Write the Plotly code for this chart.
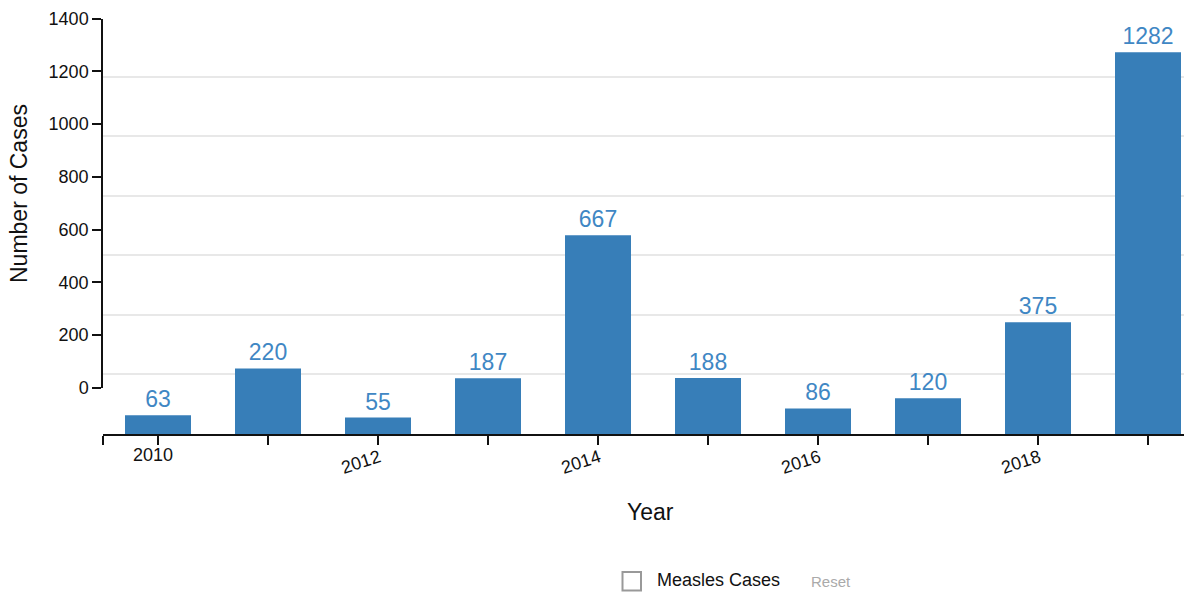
import plotly.graph_objects as go

years = [2010, 2011, 2012, 2013, 2014, 2015, 2016, 2017, 2018, 2019]
cases = [63, 220, 55, 187, 667, 188, 86, 120, 375, 1282]
label_years = [2010, 2012, 2014, 2016, 2018]
axis_ticks = [0, 200, 400, 600, 800, 1000, 1200, 1400]

# the page body adds an 8px offset; targets below are given in screen pixels
OFF = 8
W, H = 1192, 599
L = 103 - OFF          # screen x of plot left = 103
T = 17 - OFF           # screen y of plot top = 17
BOT = 434 - OFF        # screen y of plot bottom = 434
R = 0
B = H - BOT
PW, PH = W - L - R, H - T - B
FONT = "Liberation Sans, Arial, Helvetica, sans-serif"
BAR = "#377eb8"


def py(p):
    # screen pixel y -> paper y
    return (BOT - (p - OFF)) / PH


def px(p):
    return ((p - OFF) - L) / PW


fig = go.Figure()
fig.add_trace(go.Bar(
    x=years, y=cases, width=0.6, marker=dict(color=BAR, line=dict(width=0)),
    text=[str(v) for v in cases], textposition="outside",
    textfont=dict(family=FONT, size=23, color="#3f87c4"),
    cliponaxis=False, showlegend=False, hoverinfo="x+y",
))
# trace on the secondary (tick) axis so it is rendered
fig.add_trace(go.Scatter(x=[None], y=[None], yaxis="y2", showlegend=False, hoverinfo="skip"))

x0 = 2009.5
x1 = x0 + PW / 110.0

annotations = []
for yr in label_years:
    if yr == 2010:
        annotations.append(dict(x=yr, y=py(455.5), xref="x", yref="paper", text=str(yr),
                                showarrow=False, xanchor="center", yanchor="middle", xshift=-5,
                                font=dict(family=FONT, size=18, color="#111")))
    else:
        annotations.append(dict(x=yr, y=py(462), xref="x", yref="paper", text=str(yr),
                                showarrow=False, xanchor="center", yanchor="middle", xshift=-17,
                                textangle=-18, font=dict(family=FONT, size=18, color="#111")))
annotations.append(dict(x=px(19), y=py(194), xref="paper", yref="paper", text="Number of Cases",
                        showarrow=False, textangle=-90, xanchor="center", yanchor="middle",
                        font=dict(family=FONT, size=23, color="#111")))
annotations.append(dict(x=px(650), y=py(512), xref="paper", yref="paper", text="Year",
                        showarrow=False, xanchor="center", yanchor="middle",
                        font=dict(family=FONT, size=23, color="#111")))
annotations.append(dict(x=px(655), y=py(580), xref="paper", yref="paper", text="Measles Cases",
                        showarrow=False, xanchor="left", yanchor="middle",
                        font=dict(family=FONT, size=18, color="#111")))
annotations.append(dict(x=px(809), y=py(581), xref="paper", yref="paper", text="Reset",
                        showarrow=False, xanchor="left", yanchor="middle",
                        font=dict(family=FONT, size=15, color="#aaaaaa")))

shapes = [dict(type="rect", xref="paper", yref="paper",
               x0=px(622.5), x1=px(641), y0=py(590.5), y1=py(572),
               line=dict(color="#999999", width=2), fillcolor="rgba(0,0,0,0)")]

fig.update_layout(
    width=W, height=H,
    margin=dict(l=L, r=R, t=T, b=B, pad=0, autoexpand=False),
    paper_bgcolor="white", plot_bgcolor="rgba(0,0,0,0)",
    font=dict(family=FONT, size=18, color="#111"),
    bargap=0.4,
    xaxis=dict(
        range=[x0, x1], tickvals=[x0] + years, showticklabels=False,
        ticks="outside", ticklen=9, tickwidth=1.5, tickcolor="#111",
        showline=True, linecolor="#111", linewidth=1.5, showgrid=False, zeroline=False,
        fixedrange=True,
    ),
    yaxis=dict(
        range=[0, 1400], tickvals=axis_ticks, showticklabels=False, ticks="",
        showgrid=True, gridcolor="#e8e8e8", gridwidth=1.5, zeroline=False, showline=False,
        fixedrange=True,
    ),
    yaxis2=dict(
        range=[0, 1400], domain=[py(387.7), py(18.7)], anchor="x", side="left",
        tickvals=axis_ticks, ticks="outside", ticklen=9, tickwidth=1.5, tickcolor="#111",
        showline=True, linecolor="#111", linewidth=1.5, showgrid=False, zeroline=False,
        tickfont=dict(family=FONT, size=18, color="#111"), fixedrange=True,
    ),
    showlegend=False,
    annotations=annotations,
    shapes=shapes,
)

fig.write_html("out.html", config={"displayModeBar": False})
